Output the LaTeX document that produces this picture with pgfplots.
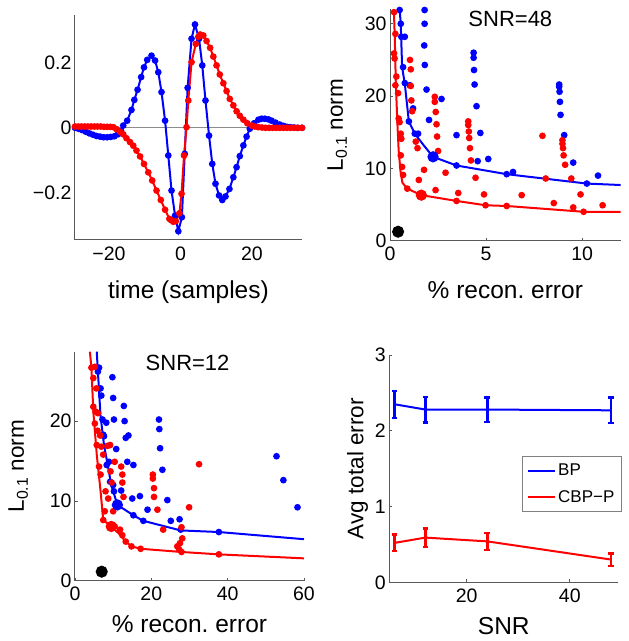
\documentclass[border=0pt]{standalone}
\usepackage{fontspec}
\setmainfont{Liberation Sans}
\usepackage{pgfplots}
\pgfplotsset{compat=1.18}

\definecolor{mblue}{RGB}{0,0,255}
\definecolor{mred}{RGB}{255,0,0}

\pgfplotsset{
  panel/.style={
    scale only axis, clip=false,
    axis x line*=bottom, axis y line*=left,
    axis line style={black!65, line width=1pt},
    tick align=inside, major tick length=3pt,
    tick style={black!65, line width=0.8pt},
    /pgf/number format/assume math mode=true,
    tick label style={font=\fontsize{19.5}{21}\selectfont},
    xticklabel style={yshift=-3pt},
    xlabel style={font=\fontsize{24.5}{26}\selectfont, yshift=-14pt},
    ylabel style={font=\fontsize{22.5}{24}\selectfont},
    every axis plot/.append style={line width=2pt},
  },
  lower/.style={xlabel style={yshift=6pt}},
  scat/.style={only marks, mark=*, mark size=2.3pt},
  big/.style={only marks, mark=*, mark size=4.6pt},
}

\begin{document}
\begin{tikzpicture}
\path[use as bounding box] (0pt,0pt) rectangle (629pt,641pt);

% waveforms
\begin{axis}[panel, at={(75pt,401pt)}, anchor=south west,
  width=227pt, height=225pt,
  xmin=-29.5, xmax=34, ymin=-0.345, ymax=0.347,
  major tick length=0pt,
  xtick={-20,0,20}, xticklabels={−20,0,20},
  ytick={-0.2,0,0.2}, yticklabels={−0.2,0,0.2},
  xlabel={time (samples)},
]
\addplot[black!45, line width=0.8pt] coordinates {(-29.5,0) (34,0)};
\addplot[mblue, mark=*, mark size=2.3pt] coordinates {
(-29.5,0.000) (-28.5,-0.003) (-27.5,-0.007) (-26.5,-0.012) (-25.5,-0.017)
(-24.5,-0.021) (-23.5,-0.025) (-22.5,-0.027) (-21.5,-0.029) (-20.5,-0.029)
(-19.5,-0.028) (-18.5,-0.026) (-17.5,-0.020) (-16.6,-0.010) (-16.0,0.007)
(-14.9,0.022) (-13.7,0.055) (-12.9,0.086) (-12.0,0.117) (-11.0,0.156)
(-10.2,0.186) (-9.3,0.209) (-8.1,0.222) (-7.1,0.207) (-6.2,0.171)
(-5.3,0.110) (-4.3,0.022) (-3.4,-0.085) (-2.5,-0.193) (-1.5,-0.270)
(-0.6,-0.318) (0.4,-0.275) (1.2,-0.080) (2.0,0.123) (3.1,0.274)
(4.06,0.318) (5.2,0.274) (6.1,0.192) (7.0,0.084) (8.0,-0.024)
(8.9,-0.111) (9.8,-0.172) (10.8,-0.208) (11.7,-0.222) (12.6,-0.211)
(13.7,-0.188) (14.8,-0.152) (15.7,-0.121) (16.6,-0.087) (17.6,-0.054)
(18.5,-0.027) (19.4,-0.003) (20.6,0.014) (21.8,0.025) (22.7,0.028)
(23.6,0.028) (24.6,0.026) (25.5,0.022) (26.6,0.016) (27.8,0.010)
(28.8,0.006) (29.8,0.003) (30.8,0.002) (31.8,0.001) (32.8,0.000) (34.0,0.000)
};
\addplot[mred, mark=*, mark size=2.3pt] coordinates {
(-29.5,0.004) (-28.6,0.004) (-27.7,0.004) (-26.8,0.004) (-25.9,0.004)
(-25.0,0.004) (-24.1,0.004) (-23.2,0.004) (-22.3,0.004) (-21.4,0.003)
(-20.5,0.003) (-19.6,0.003) (-18.8,0.002) (-17.9,-0.004) (-16.9,-0.012)
(-16.0,-0.020) (-15.1,-0.032) (-14.1,-0.044) (-13.2,-0.055) (-12.3,-0.070)
(-11.3,-0.088) (-10.2,-0.111) (-9.0,-0.137) (-7.9,-0.162) (-6.7,-0.193)
(-5.5,-0.222) (-4.3,-0.252) (-3.1,-0.280) (-2.6,-0.284) (-2.0,-0.289)
(-1.3,-0.287) (-0.3,-0.263) (0.3,-0.203) (1.0,-0.085) (1.7,0.002)
(2.2,0.084) (3.1,0.202) (4.3,0.258) (5.0,0.280) (5.5,0.287)
(6.4,0.284) (7.3,0.267) (8.3,0.246) (9.2,0.219) (10.1,0.192)
(11.0,0.164) (12.0,0.137) (12.9,0.113) (13.8,0.089) (14.8,0.069)
(15.7,0.051) (16.6,0.037) (17.6,0.025) (18.7,0.014) (19.9,0.007)
(20.8,0.004) (21.8,0.002) (22.8,0.001) (23.8,0.000) (24.8,0.000)
(25.8,0.000) (26.8,0.000) (27.8,0.000) (28.8,0.000) (29.8,0.000)
(30.8,0.000) (31.8,0.000) (32.8,0.000) (34.0,0.000)
};
\end{axis}

% SNR = 48
\begin{axis}[panel, at={(390pt,400.3pt)}, anchor=south west,
  width=230.7pt, height=231.4pt,
  xmin=0, xmax=12, ymin=0, ymax=32,
  xtick={0,5,10}, ytick={0,10,20,30},
  xlabel={\% recon.\ error},
  ylabel={L\textsubscript{0.1} norm},
  ylabel style={yshift=11pt},
]
\addplot[mblue, scat] coordinates {
(0.5,31.9) (0.56,30.0) (0.59,28.2) (0.77,28.2) (0.68,24.0) (0.77,21.8)
(1.03,21.5) (1.2,18.3) (1.46,14.8) (1.8,31.9) (1.8,30.0) (1.78,27.0)
(1.81,24.3) (1.9,20.9) (2.03,16.7) (2.68,19.6) (3.46,14.6) (4.35,26.0)
(4.35,25.3) (4.37,23.6) (4.4,21.6) (4.5,18.6) (4.7,14.9) (4.56,11.0)
(5.11,11.3) (6.4,9.5) (8.8,21.6) (8.8,21.3) (8.82,20.6) (8.84,19.2)
(8.87,17.4) (9.06,14.6) (9.53,10.8) (10.82,9.0) (0.98,16.5) (3.46,10.4)
(6.07,9.2) (10.24,7.9) (1.29,14.8)
};
\addplot[mred, scat] coordinates {
(0.21,31.6) (0.28,28.6) (0.21,25.9) (0.24,25.2) (0.33,22.7) (0.28,21.5)
(0.42,20.4) (0.45,16.9) (0.5,16.4) (0.56,14.8) (0.59,14.1) (0.56,11.8)
(0.63,10.2) (0.68,9.1) (0.9,7.2) (1.04,25.0) (1.08,23.7) (1.08,21.4)
(1.11,19.4) (1.15,17.9) (1.34,13.7) (1.43,12.8) (1.5,8.4) (1.77,9.8)
(2.33,19.9) (2.33,19.2) (2.38,17.8) (2.42,16.1) (2.45,14.4) (2.5,12.4)
(2.37,7.0) (2.89,9.4) (4.07,16.5) (4.07,16.0) (4.1,15.1) (4.12,14.2)
(4.16,12.8) (4.21,11.1) (4.45,8.7) (3.55,6.6) (4.89,6.4) (6.85,6.3)
(7.93,14.5) (8.1,8.6) (8.97,13.9) (8.97,13.4) (9.0,12.8) (9.03,11.8)
(9.11,10.5) (9.43,8.6) (8.52,5.2) (9.53,4.6) (9.91,6.4) (11.06,4.9)
(3.46,5.5) (4.97,4.9) (6.07,4.8) (10.07,4.0)
};
\addplot[mblue] coordinates {
(0.50,32) (0.56,30.0) (0.63,24.0) (0.77,21.7) (0.98,16.5) (1.29,14.8)
(1.75,13.2) (2.24,11.6) (3.46,10.4) (6.07,9.2) (10.24,7.9) (12.0,7.7)
};
\addplot[mred] coordinates {
(0.2,32) (0.25,28) (0.3,22) (0.38,16.5) (0.45,12.5) (0.55,9.5)
(0.65,8.0) (0.9,7.2) (1.63,6.3) (3.46,5.5) (4.97,4.9) (6.07,4.8)
(10.07,4.0) (12.0,4.0)
};
\addplot[mblue, big] coordinates {(2.24,11.6)};
\addplot[mred, big] coordinates {(1.63,6.3)};
\addplot[black, big, mark size=5pt] coordinates {(0.42,1.24)};
\node[font=\fontsize{22}{24}\selectfont] at (axis cs:6.26,30.7) {SNR=48};
\end{axis}

% SNR = 12
\begin{axis}[panel, lower, at={(75pt,60.3pt)}, anchor=south west,
  width=229pt, height=229pt,
  xmin=0, xmax=60, ymin=0, ymax=28.7,
  xtick={0,20,40,60}, ytick={0,10,20},
  xlabel={\% recon.\ error},
  ylabel={L\textsubscript{0.1} norm},
  ylabel style={yshift=15pt},
]
\addplot[mblue, scat] coordinates {
(6.3,26.7) (6.0,26.2) (9.8,25.5) (6.7,24.1) (6.9,23.2) (10.0,22.9)
(12.8,21.9) (7.2,20.2) (8.2,19.8) (10.2,20.2) (13.0,20.0) (22.0,20.2)
(22.1,19.0) (22.3,16.6) (7.4,18.3) (7.6,18.1) (13.3,17.9) (14.0,18.2)
(10.8,16.5) (13.7,14.9) (15.3,14.5) (8.9,14.9) (8.3,14.5) (22.9,13.9)
(9.2,12.4) (10.0,12.0) (12.1,11.3) (15.0,10.3) (17.0,10.6) (24.2,10.1)
(10.2,11.2) (19.0,8.9) (25.1,7.5) (27.4,7.7) (27.7,6.4) (37.7,6.1)
(52.8,15.6) (54.6,12.6) (58.3,9.2) (15.3,8.2) (17.9,7.5)
};
\addplot[mred, scat] coordinates {
(4.3,26.7) (5.2,26.8) (4.8,25.4) (5.6,24.1) (4.8,21.8) (5.4,21.2)
(6.0,21.0) (5.2,19.7) (5.9,18.8) (6.6,18.2) (5.7,17.0) (6.9,16.8)
(8.5,16.9) (7.4,15.8) (6.3,14.3) (6.7,13.3) (9.2,17.0) (10.4,14.9)
(12.1,14.3) (9.3,13.7) (12.4,13.3) (12.4,12.3) (8.0,11.2) (9.6,12.3)
(8.7,10.3) (12.7,10.5) (7.8,8.7) (10.0,8.7) (20.4,13.3) (20.4,12.8)
(20.7,11.6) (20.7,10.5) (21.6,8.9) (29.9,9.2) (32.5,14.6) (23.1,6.4)
(27.9,6.7) (28.1,5.3) (26.8,4.3) (27.5,4.7) (27.3,3.9) (11.8,6.4)
(12.4,5.7) (10.4,6.8) (7.4,7.6) (13.3,4.9) (14.8,4.3) (17.2,4.0)
(27.9,3.6) (37.7,3.3)
};
\addplot[mblue] coordinates {
(5.7,28.7) (6.0,26.2) (6.7,20.6) (7.6,17.0) (8.5,14.7) (9.5,12.0)
(11.1,9.5) (15.3,8.2) (17.9,7.5) (27.7,6.3) (37.7,6.1) (60,5.2)
};
\addplot[mred] coordinates {
(3.9,28.7) (4.3,26.7) (4.8,21.2) (5.7,15.8) (6.7,11.2) (7.4,7.6)
(9.5,6.8) (11.5,5.9) (13.3,4.9) (14.8,4.3) (17.2,4.0) (27.9,3.6)
(37.7,3.3) (60,2.8)
};
\addplot[mblue, big] coordinates {(11.1,9.5)};
\addplot[mred, big] coordinates {(9.5,6.8)};
\addplot[black, big, mark size=5pt] coordinates {(7.0,1.13)};
\node[font=\fontsize{22}{24}\selectfont] at (axis cs:29.5,27.3) {SNR=12};
\end{axis}

% average error
\begin{axis}[panel, lower, at={(389.3pt,58.7pt)}, anchor=south west,
  width=229pt, height=227.3pt,
  xmin=5, xmax=49.4, ymin=0, ymax=3,
  xtick={20,40}, ytick={0,1,2,3},
  xlabel={SNR}, ylabel={Avg total error},
  legend style={at={(1.015,0.556)}, anchor=north east, draw=black!50,
    fill=white, line width=0.6pt, font=\fontsize{17}{19}\selectfont,
    row sep=9pt, inner xsep=5pt, inner ysep=6pt},
  legend cell align=left,
  legend image code/.code={\draw[#1, line width=2pt] (0pt,0pt) -- (27pt,0pt);},
  every error bar/.append style={line width=2.5pt},
]
\addplot[mblue, error bars/.cd, y dir=both, y explicit, error mark=|,
  error bar style={mblue, line width=2.5pt},
  error mark options={mblue, mark size=2.8pt, line width=2.2pt}]
  coordinates {(6,2.35) +- (0,0.18) (12,2.28) +- (0,0.17) (24,2.28) +- (0,0.16) (48,2.27) +- (0,0.17)};
\addlegendentry{BP}
\addplot[mred, error bars/.cd, y dir=both, y explicit, error mark=|,
  error bar style={mred, line width=2.5pt},
  error mark options={mred, mark size=2.8pt, line width=2.2pt}]
  coordinates {(6,0.52) +- (0,0.11) (12,0.59) +- (0,0.12) (24,0.54) +- (0,0.11) (48,0.30) +- (0,0.08)};
\addlegendentry{CBP−P}
\end{axis}
\end{tikzpicture}
\end{document}
